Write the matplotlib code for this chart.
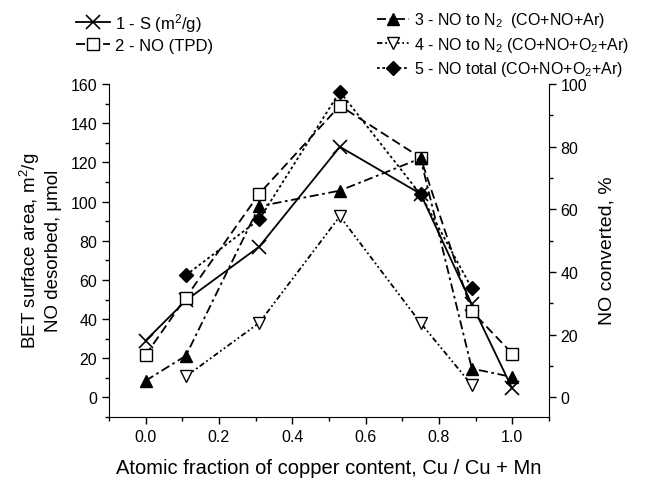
import matplotlib
matplotlib.use("Agg")
import matplotlib.pyplot as plt
from matplotlib.ticker import MultipleLocator

plt.rcParams['font.family'] = ['Liberation Sans', 'DejaVu Sans']
plt.rcParams['mathtext.fontset'] = 'custom'
plt.rcParams['mathtext.rm'] = 'Liberation Sans'
plt.rcParams['mathtext.it'] = 'Liberation Sans:italic'

# left axis: BET surface area (m2/g) and NO desorbed (umol)
x_s = [0.0, 0.11, 0.31, 0.53, 0.75, 0.89, 1.0]
s_area = [29, 49.5, 77, 128, 104, 47.5, 4.6]
no_tpd = [21.6, 51, 104, 149, 122.5, 44, 22.4]

# right axis: NO converted, %
x_n2 = [0.0, 0.11, 0.31, 0.53, 0.75, 0.89, 1.0]
no_n2 = [5.3, 13.3, 61, 66, 76.3, 9.2, 6.5]
x_o2 = [0.11, 0.31, 0.53, 0.75, 0.89]
no_n2_o2 = [6.7, 23.8, 57.8, 23.8, 3.9]
no_total = [39, 56.8, 97.6, 64.8, 34.8]

fig = plt.figure(figsize=(6.48, 4.81), dpi=100)
ax = fig.add_axes([0.168, 0.131, 0.679, 0.694])
ax2 = ax.twinx()

lw = 1.3
l1, = ax.plot(x_s, s_area, color='black', lw=lw, marker='x', ms=9.5, mew=1.2,
              label='1 - S (m$^2$/g)')
l2, = ax.plot(x_s, no_tpd, color='black', lw=lw, ls=(0, (5, 2.5)), marker='s',
              ms=8, mfc='white', mec='black', mew=1.0, label='2 - NO (TPD)')
l3, = ax2.plot(x_n2, no_n2, color='black', lw=lw, ls=(0, (5, 2, 1.5, 2)),
               marker='^', ms=8.5, label='3 - NO to N$_2$  (CO+NO+Ar)')
l4, = ax2.plot(x_o2, no_n2_o2, color='black', lw=lw,
               ls=(0, (3, 1.5, 1, 1.5, 1, 1.5)), marker='v', ms=9, mfc='white',
               mec='black', mew=1.0, label='4 - NO to N$_2$ (CO+NO+O$_2$+Ar)')
l5, = ax2.plot(x_o2, no_total, color='black', lw=lw, ls=(0, (1.5, 1.5)),
               marker='D', ms=7, label='5 - NO total (CO+NO+O$_2$+Ar)')

ax.set_xlim(-0.1, 1.1)
ax.set_ylim(-10, 160.5)
ax2.set_ylim(-6.25, 100.3)

ax.xaxis.set_major_locator(MultipleLocator(0.2))
ax.xaxis.set_minor_locator(MultipleLocator(0.1))
ax.yaxis.set_minor_locator(MultipleLocator(10))
ax2.yaxis.set_minor_locator(MultipleLocator(10))
ax.set_yticks(range(0, 161, 20))
ax2.set_yticks(range(0, 101, 20))

for a in (ax, ax2):
    a.spines['top'].set_visible(False)
    a.tick_params(which='major', direction='out', length=5, width=1,
                  labelsize=11.5, colors='black')
    a.tick_params(which='minor', direction='out', length=3, width=1)
ax.spines['right'].set_visible(False)
ax2.spines['left'].set_visible(False)
ax2.spines['bottom'].set_visible(False)
ax.spines['left'].set_bounds(-10, 160)
ax2.spines['right'].set_bounds(-6.25, 100)

ax.set_xlabel('Atomic fraction of copper content, Cu / Cu + Mn', fontsize=14.5,
              labelpad=10)
ax.set_ylabel('BET surface area, m$^2$/g\nNO desorbed, \u03bcmol', fontsize=13.5,
              labelpad=6)
ax2.set_ylabel('NO converted, %', fontsize=14, labelpad=8)

fig.legend(handles=[l1, l2], loc='upper left', bbox_to_anchor=(0.1, 1.0),
           frameon=False, fontsize=12, handlelength=2.0, handletextpad=0.3,
           labelspacing=0.25, borderaxespad=0.3)
fig.legend(handles=[l3, l4, l5], loc='upper left', bbox_to_anchor=(0.565, 1.0),
           frameon=False, fontsize=11.5, handlelength=2.0, handletextpad=0.3,
           labelspacing=0.35, borderaxespad=0.3)

fig.savefig('out.png', dpi=100)
